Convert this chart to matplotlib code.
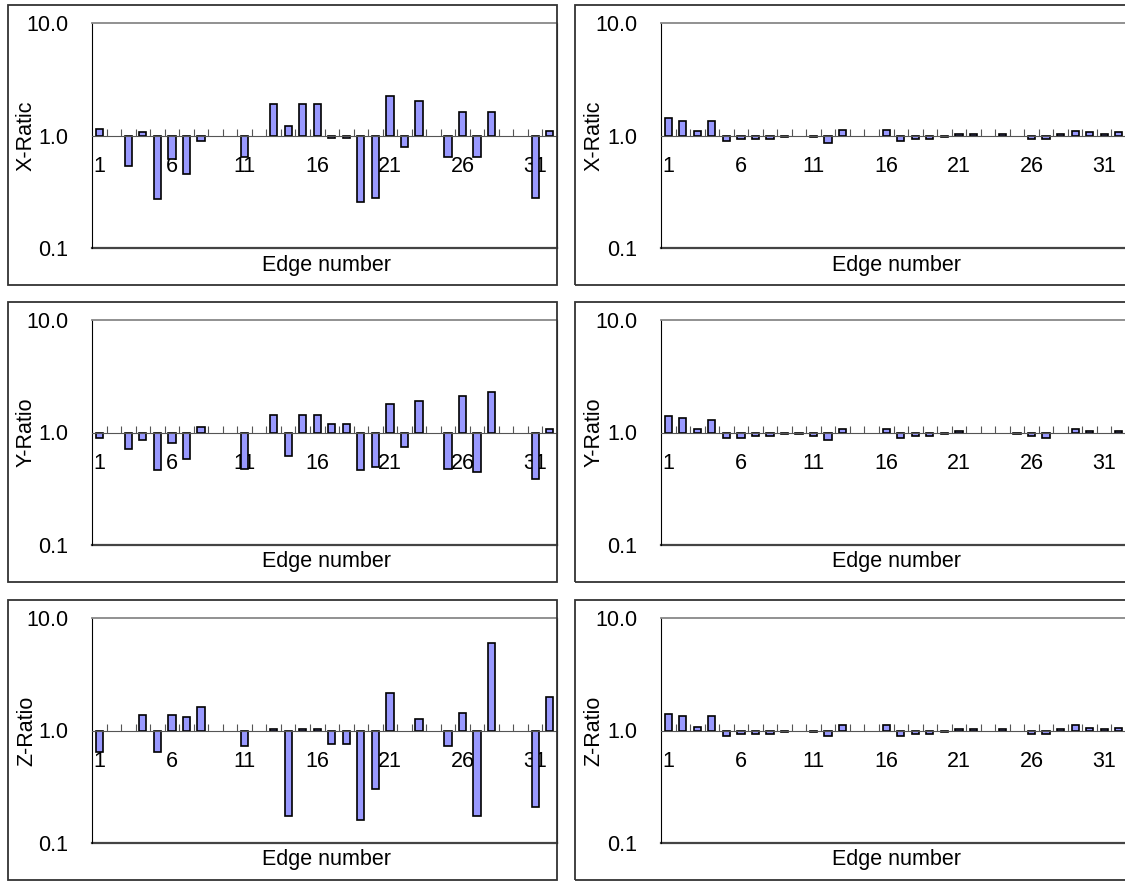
#!/usr/bin/env python3

"""Edge ratio bar panels (X/Y/Z) on a log scale, two columns."""

import matplotlib
matplotlib.use("Agg")
import matplotlib.pyplot as plt
import numpy as np
from matplotlib.patches import Rectangle
from matplotlib.ticker import FixedLocator, NullLocator

nan = np.nan

edges = np.arange(1, 33)
edge_labels = [1, 6, 11, 16, 21, 26, 31]

x_left = [1.14, nan, 0.54, 1.07, 0.27, 0.62, 0.455, 0.89, nan, nan, 0.64, nan,
          1.90, 1.22, 1.90, 1.90, 0.95, 0.95, 0.255, 0.28, 2.26, 0.785, 2.04, nan,
          0.64, 1.61, 0.64, 1.61, nan, nan, 0.276, 1.10]
x_right = [1.44, 1.35, 1.10, 1.35, 0.90, 0.94, 0.93, 0.93, 0.96, nan, 0.96, 0.865,
           1.13, nan, nan, 1.13, 0.90, 0.93, 0.93, 0.96, 1.04, 1.04, nan, 1.04,
           nan, 0.93, 0.93, 1.04, 1.10, 1.08, 1.04, 1.08]
y_left = [0.90, nan, 0.72, 0.85, 0.46, 0.81, 0.58, 1.11, nan, nan, 0.47, nan,
          1.42, 0.62, 1.42, 1.42, 1.19, 1.19, 0.46, 0.49, 1.80, 0.74, 1.92, nan,
          0.47, 2.13, 0.445, 2.27, nan, nan, 0.39, 1.08]
y_right = [1.39, 1.35, 1.07, 1.29, 0.90, 0.90, 0.93, 0.93, 0.97, 0.97, 0.93, 0.85,
           1.07, nan, nan, 1.07, 0.90, 0.93, 0.93, 0.97, 1.03, nan, nan, nan,
           0.97, 0.935, 0.90, nan, 1.08, 1.03, nan, 1.03]
z_left = [0.65, nan, nan, 1.37, 0.65, 1.37, 1.32, 1.61, nan, nan, 0.735, nan,
          1.03, 0.175, 1.03, 1.03, 0.765, 0.765, 0.16, 0.30, 2.14, nan, 1.27, nan,
          0.735, 1.44, 0.175, 5.94, nan, nan, 0.21, 2.0]
z_right = [1.40, 1.35, 1.08, 1.35, 0.90, 0.94, 0.94, 0.94, 0.97, nan, 0.97, 0.90,
           1.12, nan, nan, 1.12, 0.90, 0.94, 0.94, 0.97, 1.03, 1.03, nan, 1.03,
           nan, 0.935, 0.935, 1.03, 1.11, 1.06, 1.03, 1.06]

row_titles = ["X-Ratic", "Y-Ratio", "Z-Ratio"]
panels = [[x_left, x_right], [y_left, y_right], [z_left, z_right]]

W, H = 1125, 884
FS = 15.5
plt.rcParams["font.family"] = ["Liberation Sans", "DejaVu Sans"]
fig = plt.figure(figsize=(W / 100, H / 100), dpi=100)

box_tops = [5, 302, 600]
box_lefts = [7.5, 575]
box_rights = [557, 1135]
plot_lefts = [92, 661]
plot_w = 465


def fx(px):
    return px / W


def fy(py):
    return 1 - py / H


for r, top in enumerate(box_tops):
    p_top, p_bot = top + 18, top + 243
    for c in range(2):
        # outer chart border
        fig.add_artist(Rectangle((fx(box_lefts[c]), fy(top + 280)),
                                 fx(box_rights[c] - box_lefts[c]), 280 / H,
                                 transform=fig.transFigure, fill=False,
                                 edgecolor="#333333", linewidth=1.3))
        ax = fig.add_axes([fx(plot_lefts[c]), fy(p_bot), fx(plot_w), (p_bot - p_top) / H])
        vals = np.array(panels[r][c], dtype=float)
        mask = ~np.isnan(vals)
        ax.bar(edges[mask], vals[mask] - 1.0, bottom=1.0, width=0.5,
               color="#9999ff", edgecolor="black", linewidth=1.2, zorder=2)
        ax.set_yscale("log")
        ax.set_ylim(0.1, 10)
        ax.set_xlim(0.5, 32.5)
        ax.set_axisbelow(True)

        ax.yaxis.set_major_locator(FixedLocator([0.1, 1, 10]))
        ax.yaxis.set_minor_locator(NullLocator())
        ax.set_yticklabels(["0.1", "1.0", "10.0"])
        ax.tick_params(axis="y", length=0, pad=17, labelsize=FS)

        ax.set_xticks(edge_labels)
        ax.set_xticklabels([str(e) for e in edge_labels])
        ax.xaxis.set_minor_locator(FixedLocator(np.arange(1.5, 32, 1.0)))
        ax.tick_params(axis="x", which="major", length=0, pad=15, labelsize=FS)
        ax.tick_params(axis="x", which="minor", direction="in", length=5,
                       width=0.8, color="#555555")

        ax.spines["bottom"].set_position(("data", 1.0))
        ax.spines["bottom"].set_color("#555555")
        ax.spines["top"].set_color("#888888")
        ax.spines["top"].set_linewidth(1.3)
        ax.spines["left"].set_color("black")
        ax.spines["right"].set_color("black")
        ax.plot([0, 1], [0, 0], transform=ax.transAxes, color="#444444",
                linewidth=1.6, clip_on=False)

        fig.text(fx(box_lefts[c] + 19), fy((p_top + p_bot) / 2), row_titles[r],
                 rotation=90, ha="center", va="center", fontsize=FS)
        fig.text(fx(plot_lefts[c] + 235), fy(p_bot + 17), "Edge number",
                 ha="center", va="center", fontsize=FS)

fig.savefig("out.png", dpi=100)
plt.close(fig)
